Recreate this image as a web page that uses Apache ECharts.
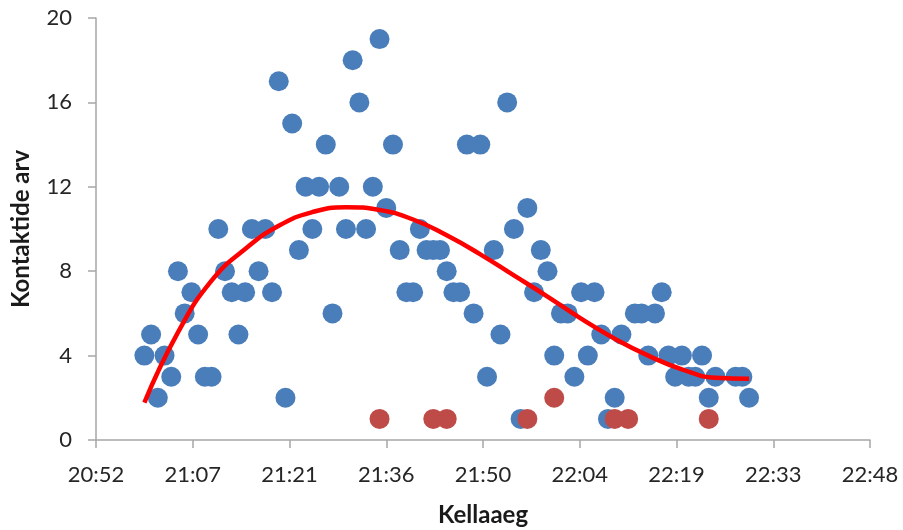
<!DOCTYPE html>
<html>
<head>
<meta charset="utf-8">
<script src="https://cdn.jsdelivr.net/npm/echarts@6/dist/echarts.min.js"></script>
<style>
html,body{margin:0;padding:0;background:#fff;}
#chart{width:903px;height:530px;}
</style>
</head>
<body>
<div id="chart"></div>
<script>
// Blue observations (time, contact count)
const blueTimes = ['21:00','21:01','21:02','21:03','21:04','21:05','21:06','21:07','21:08','21:09',
  '21:10','21:11','21:12','21:13','21:14','21:15','21:16','21:17','21:18','21:19',
  '21:20','21:21','21:22','21:23','21:24','21:25','21:26','21:27','21:28','21:29',
  '21:30','21:31','21:32','21:33','21:34','21:35','21:36','21:37','21:38','21:39',
  '21:40','21:41','21:42','21:43','21:44','21:45','21:46','21:47','21:48','21:49',
  '21:50','21:51','21:52','21:53','21:54','21:55','21:56','21:57','21:58','21:59',
  '22:00','22:01','22:02','22:03','22:04','22:05','22:06','22:07','22:08','22:09',
  '22:10','22:11','22:13','22:14','22:15','22:16','22:17','22:18','22:19',
  '22:20','22:21','22:22','22:23','22:24','22:25','22:28','22:29','22:30'];
const blueValues = [4,5,2,4,3,8,6,7,5,3,
  3,10,8,7,5,7,10,8,10,7,
  17,2,15,9,12,10,12,14,6,12,
  10,18,16,10,12,19,11,14,9,7,
  7,10,9,9,9,8,7,7,14,6,
  14,3,9,5,16,10,1,11,7,9,
  8,4,6,6,3,7,4,7,5,1,
  2,5,6,6,4,6,7,4,3,
  4,3,3,4,2,3,3,3,2];

// Red observations
const redTimes = ['21:35','21:43','21:45','21:57','22:01','22:10','22:12','22:24'];
const redValues = [1,1,1,1,2,1,1,1];

// Trend line
const trendTimes = ['21:00','21:05','21:10','21:15','21:20','21:25','21:30','21:35','21:40','21:45',
  '21:50','21:55','22:00','22:05','22:10','22:15','22:20','22:25','22:30'];
const trendValues = [1.77,5.1,7.55,9.05,10.15,10.8,11.03,10.9,10.45,9.7,
  8.8,7.8,6.8,5.75,4.8,4.0,3.35,2.95,2.9];

// Axis tick labels
const xTickLabels = ['20:52','21:07','21:21','21:36','21:50','22:04','22:19','22:33','22:48'];
const yTickLabels = ['0','4','8','12','16','20'];

const X_MIN = 75168, X_MAX = 82080, X_STEP = 864; // seconds since midnight
function toSec(t){ const p = t.split(':'); return (+p[0])*3600 + (+p[1])*60; }
function pairs(ts, vs){ return ts.map((t,i)=>[toSec(t), vs[i]]); }

const FONT = 'Lato';
const chart = echarts.init(document.getElementById('chart'), null, {renderer:'canvas'});
chart.setOption({
  animation:false,
  backgroundColor:'#ffffff',
  grid:{left:96, right:33, top:18, bottom:90, containLabel:false, outerBoundsMode:'none'},
  xAxis:{
    type:'value', min:X_MIN, max:X_MAX, interval:X_STEP,
    name:'Kellaaeg', nameLocation:'middle', nameGap:63,
    nameTextStyle:{fontFamily:FONT, fontSize:24, fontWeight:'bold', color:'#1a1a1a'},
    axisLine:{show:true, lineStyle:{color:'#a6a6a6', width:1.5}},
    axisTick:{show:true, length:8, lineStyle:{color:'#a6a6a6', width:1.5}},
    splitLine:{show:false},
    axisLabel:{margin:24, fontFamily:FONT, fontSize:22, color:'#262626',
      formatter:function(v){ return xTickLabels[Math.round((v-X_MIN)/X_STEP)] || ''; }}
  },
  yAxis:{
    type:'value', min:0, max:20, interval:4,
    name:'Kontaktide arv', nameLocation:'middle', nameGap:63, nameRotate:90,
    nameTextStyle:{fontFamily:FONT, fontSize:24, fontWeight:'bold', color:'#1a1a1a'},
    axisLine:{show:true, lineStyle:{color:'#a6a6a6', width:1.5}},
    axisTick:{show:true, length:8, lineStyle:{color:'#a6a6a6', width:1.5}},
    splitLine:{show:false},
    axisLabel:{margin:24, fontFamily:FONT, fontSize:22, color:'#262626',
      formatter:function(v){ return yTickLabels[Math.round(v/4)] || ''; }}
  },
  series:[
    {type:'scatter', name:'blue', data:pairs(blueTimes, blueValues), symbolSize:20,
      itemStyle:{color:'#4a7ebb', opacity:1}, z:2},
    {type:'scatter', name:'red', data:pairs(redTimes, redValues), symbolSize:20,
      itemStyle:{color:'#be4b48', opacity:1}, z:3},
    {type:'line', name:'trend', data:pairs(trendTimes, trendValues), smooth:true,
      showSymbol:false, symbol:'none', lineStyle:{color:'#ff0000', width:4.5}, z:4}
  ]
});
</script>
</body>
</html>
